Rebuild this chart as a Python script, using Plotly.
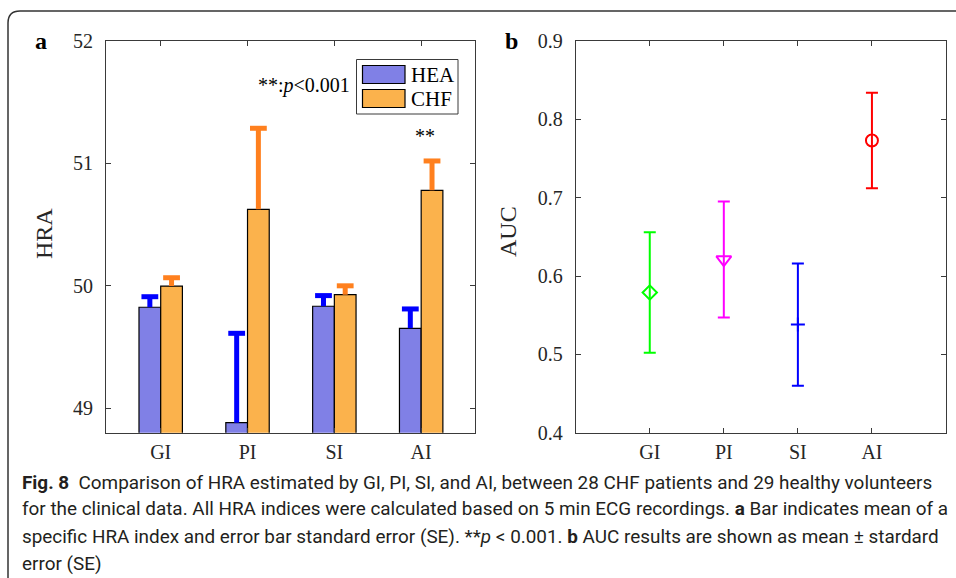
import numpy as np
import plotly.graph_objects as go

W, H = 956, 578

# ---------------- data ----------------
categories = ["GI", "PI", "SI", "AI"]
hea_mean = [49.825, 48.882, 49.833, 49.653]
hea_se = [0.086, 0.73, 0.087, 0.158]
chf_mean = [49.998, 50.625, 49.928, 50.780]
chf_se = [0.068, 0.662, 0.072, 0.240]

auc_mean = [0.579, 0.621, 0.538, 0.773]
auc_se = [0.077, 0.074, 0.078, 0.061]

yticks_a = [49, 50, 51, 52]
yticks_b = [0.4, 0.5, 0.6, 0.7, 0.8, 0.9]

caption_lines = [
    "<b>Fig. 8</b>  Comparison of HRA estimated by GI, PI, SI, and AI, between 28 CHF patients and 29 healthy volunteers",
    "for the clinical data. All HRA indices were calculated based on 5 min ECG recordings. <b>a</b> Bar indicates mean of a",
    "specific HRA index and error bar standard error (SE). **<i>p</i> < 0.001. <b>b</b> AUC results are shown as mean \u00b1 stardard",
    "error (SE)",
]

# ---------------- style ----------------
HEA_FILL = "rgb(128,128,230)"
CHF_FILL = "rgb(251,178,76)"
HEA_ERR = "rgb(0,0,255)"
CHF_ERR = "rgb(255,128,30)"
AUC_COLORS = ["rgb(0,255,0)", "rgb(255,0,255)", "rgb(0,0,255)", "rgb(255,0,0)"]
AUC_SYMBOLS = ["diamond-open", "triangle-down-open", "cross-thin-open", "circle-open"]
AUC_SIZES = [11, 13, 10, 12]
SERIF = "Liberation Serif, Times New Roman, serif"
AX = "#3a3a3a"


def px(x):
    return x / W


def py(y):
    return 1 - y / H


fig = go.Figure()

pos = np.arange(1, len(categories) + 1)
bw = 0.25

# bars (panel a)
fig.add_trace(go.Bar(x=pos, y=hea_mean, width=bw, offset=-bw, marker=dict(color=HEA_FILL, line=dict(color="black", width=1.2)),
                     showlegend=False, xaxis="x", yaxis="y"))
fig.add_trace(go.Bar(x=pos, y=chf_mean, width=bw, offset=0, marker=dict(color=CHF_FILL, line=dict(color="black", width=1.2)),
                     showlegend=False, xaxis="x", yaxis="y"))

# one-sided error bars (upper only) with T caps
for means, ses, shift, col in [(hea_mean, hea_se, -bw / 2, HEA_ERR), (chf_mean, chf_se, bw / 2, CHF_ERR)]:
    top = np.array(means) + np.array(ses)
    fig.add_trace(go.Scatter(
        x=pos + shift, y=top, mode="markers",
        marker=dict(symbol="line-ew-open", size=12, line=dict(color=col, width=5), color=col),
        error_y=dict(type="data", symmetric=False, array=[0] * len(ses), arrayminus=ses,
                     width=0, thickness=5, color=col),
        showlegend=False, xaxis="x", yaxis="y", cliponaxis=False))

# panel b
for i, cat in enumerate(categories):
    fig.add_trace(go.Scatter(
        x=[pos[i]], y=[auc_mean[i]], mode="markers",
        marker=dict(symbol=AUC_SYMBOLS[i], size=AUC_SIZES[i], color=AUC_COLORS[i],
                    line=dict(color=AUC_COLORS[i], width=2)),
        error_y=dict(type="data", array=[auc_se[i]], width=6, thickness=2, color=AUC_COLORS[i]),
        showlegend=False, xaxis="x2", yaxis="y2"))

axis_common = dict(showline=True, linecolor=AX, linewidth=1, mirror="ticks", ticks="inside",
                   ticklen=5, tickcolor=AX, tickwidth=1, showgrid=False, zeroline=False, automargin=False,
                   tickfont=dict(family=SERIF, size=20, color="#262626"))

ydom = [py(432.7), py(41)]
fig.update_layout(
    template="none",
    width=W, height=H, margin=dict(l=0, r=0, t=0, b=0, pad=0), autosize=False,
    paper_bgcolor="white", plot_bgcolor="white",
    barmode="overlay", showlegend=False,
    xaxis=dict(domain=[px(106), px(475)], range=[0.37, 4.62], tickvals=list(pos), ticktext=categories,
               ticklabelstandoff=1, anchor="y", **axis_common),
    yaxis=dict(domain=ydom, range=[48.8, 52], tickvals=yticks_a, ticklabelstandoff=8, anchor="x", **axis_common),
    xaxis2=dict(domain=[px(575.7), px(946)], range=[0, 5], tickvals=list(pos), ticktext=categories,
                ticklabelstandoff=1, anchor="y2", **axis_common),
    yaxis2=dict(domain=ydom, range=[0.4, 0.9], tickvals=yticks_b, tickformat=".1f",
                ticklabelstandoff=8, anchor="x2", **axis_common),
)


def note(text, x, y, size, xanchor="center", angle=0, color="black", family=SERIF, xref="paper", yref="paper"):
    return dict(text=text, x=x, y=y, xref=xref, yref=yref, showarrow=False, textangle=angle,
                xanchor=xanchor, yanchor="middle", font=dict(family=family, size=size, color=color))


ann = []
# panel letters
ann.append(note("<b>a</b>", px(41), py(41), 24))
ann.append(note("<b>b</b>", px(511.5), py(40.5), 24))
# axis titles
ann.append(note("HRA", px(44), py(234), 24, angle=-90, color="#262626"))
ann.append(note("AUC", px(508), py(232), 24, angle=-90, color="#262626"))
# significance text
ann.append(note("**:<i>p</i><0.001", px(352), py(85), 20, xanchor="right"))
ann.append(note("**", pos[3] + bw / 2 - 0.08, chf_mean[3] + chf_se[3] + 0.2, 20, xref="x", yref="y"))
# manual legend
ann.append(note("HEA", px(409), py(75), 21, xanchor="left"))
ann.append(note("CHF", px(409), py(98.5), 21, xanchor="left"))
# caption
for k, line in enumerate(caption_lines):
    ann.append(note(line, px(20), py(482 + 27 * k), 18.9, xanchor="left", color="#231f20",
                    family="Roboto, sans-serif"))
fig.update_layout(annotations=ann)

shapes = []
# figure frame with rounded top-left corner
r = 12
shapes.append(dict(type="path", xref="paper", yref="paper",
                   path=f"M {px(8)} {py(600)} L {px(8)} {py(11 + r)} Q {px(8)} {py(11)} {px(8 + r)} {py(11)} L {px(980)} {py(11)}",
                   line=dict(color="#333333", width=1.5)))
# legend box and patches
shapes.append(dict(type="rect", xref="paper", yref="paper", x0=px(356.5), x1=px(458), y0=py(114), y1=py(59.5),
                   line=dict(color=AX, width=1), fillcolor="white"))
shapes.append(dict(type="rect", xref="paper", yref="paper", x0=px(362.5), x1=px(405), y0=py(83.5), y1=py(65.5),
                   line=dict(color="black", width=1.2), fillcolor=HEA_FILL))
shapes.append(dict(type="rect", xref="paper", yref="paper", x0=px(362.5), x1=px(405), y0=py(107.5), y1=py(89.5),
                   line=dict(color="black", width=1.2), fillcolor=CHF_FILL))
fig.update_layout(shapes=shapes)

fig.write_html("out.html", config={"displayModeBar": False},
               post_script="document.body.style.margin='0px';document.body.style.overflow='hidden';")
